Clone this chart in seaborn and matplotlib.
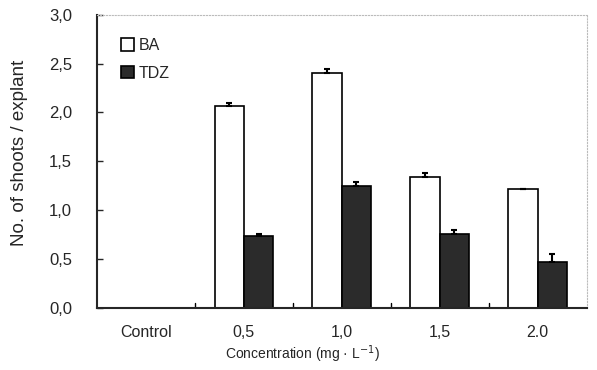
import pandas as pd
import matplotlib.pyplot as plt
import seaborn as sns

# data
concentrations = ['Control', '0,5', '1,0', '1,5', '2.0']
ba_mean = [0.0, 2.07, 2.40, 1.34, 1.22]
ba_err = [0.0, 0.03, 0.05, 0.04, 0.0]
tdz_mean = [0.0, 0.74, 1.25, 0.76, 0.47]
tdz_err = [0.0, 0.02, 0.04, 0.04, 0.08]
y_ticks = [0.0, 0.5, 1.0, 1.5, 2.0, 2.5, 3.0]
y_ticklabels = ['0,0', '0,5', '1,0', '1,5', '2,0', '2,5', '3,0']

df = pd.DataFrame({
    'conc': concentrations * 2,
    'value': ba_mean + tdz_mean,
    'err': ba_err + tdz_err,
    'treat': ['BA'] * 5 + ['TDZ'] * 5,
})

sns.set_style("ticks")
plt.rcParams['font.family'] = ['Liberation Sans', 'DejaVu Sans']

fig = plt.figure(figsize=(5.97, 3.70), dpi=100)
ax = fig.add_axes([0.1625, 0.168, 0.82, 0.792])

sns.barplot(data=df, x='conc', y='value', hue='treat', order=concentrations,
            hue_order=['BA', 'TDZ'], palette={'BA': 'white', 'TDZ': '#2b2b2b'},
            width=0.6, edgecolor='black', linewidth=1.2, errorbar=None, ax=ax)

# error bars (upper only) on each bar
for cont, errs in zip(ax.containers, [ba_err, tdz_err]):
    for patch, e in zip(cont.patches, errs):
        if patch.get_height() > 0:
            xc = patch.get_x() + patch.get_width() / 2
            ax.errorbar(xc, patch.get_height(), yerr=[[0], [e]], fmt='none',
                        ecolor='black', elinewidth=1.5, capsize=2.5, capthick=1.5)

ax.set_xlim(-0.5, 4.5)
ax.set_ylim(0, 3.0)
ax.set_yticks(y_ticks)
ax.set_yticklabels(y_ticklabels, fontsize=12)
ax.tick_params(axis='y', direction='in', length=4, width=1, pad=18)
ax.tick_params(axis='x', length=0, labelsize=11.5, pad=12)
# boundaries between groups
for xb in [0.5, 1.5, 2.5, 3.5]:
    ax.plot([xb, xb], [0, 0.05], color='black', lw=1)

ax.set_xlabel('Concentration (mg · L$^{-1}$)', fontsize=10)
ax.xaxis.set_label_coords(0.42, -0.12)
ax.set_ylabel('No. of shoots / explant', fontsize=13.5)
ax.yaxis.set_label_coords(-0.14, 0.53)

for s in ['left', 'bottom']:
    ax.spines[s].set_linewidth(1.5)
for s in ['top', 'right']:
    ax.spines[s].set_color('#bbbbbb')
    ax.spines[s].set_linestyle(':')
    ax.spines[s].set_linewidth(0.8)

leg = ax.legend(loc='upper left', frameon=False, fontsize=11.5, handlelength=0.8,
                handleheight=0.8, handletextpad=0.3, labelspacing=0.8,
                bbox_to_anchor=(0.02, 0.97))

fig.savefig('out.png', dpi=100)
